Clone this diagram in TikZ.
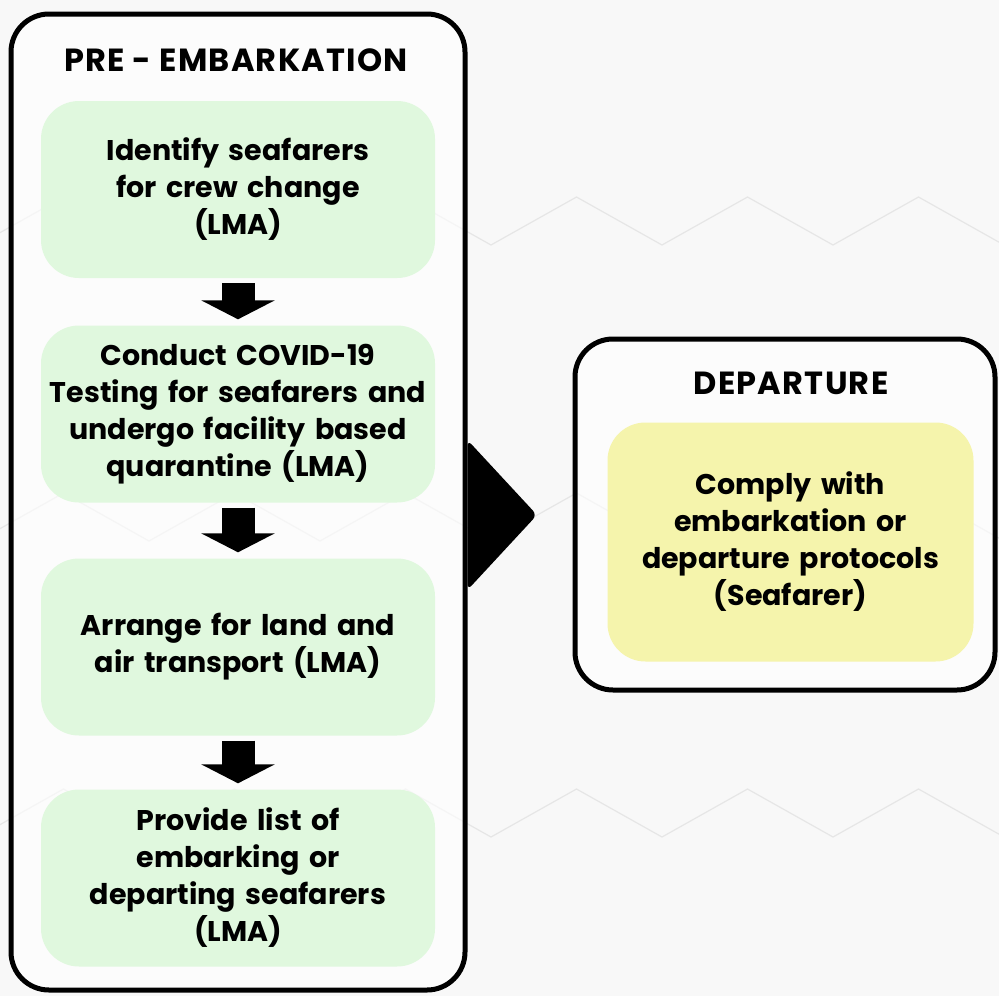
\documentclass[tikz,border=0pt]{standalone}
\usepackage{fontspec}
\setmainfont{Poppins}
\usepackage{xcolor}
\usetikzlibrary{arrows.meta, positioning, calc}

\definecolor{stepgreen}{RGB}{224,248,222}
\definecolor{stepyellow}{RGB}{245,244,172}
\definecolor{paper}{RGB}{248,248,248}
\definecolor{hexgray}{RGB}{230,230,230}

\begin{document}
\begin{tikzpicture}[x=1pt, y=-1pt,
        panel/.style={rectangle, draw, line width=5pt, rounded corners=38pt, fill=white, fill opacity=0.6, draw opacity=1},
        heading/.style={font={\fontsize{32}{36}\selectfont\bfseries\addfontfeature{LetterSpace=4}}},
        stepbox/.style={rectangle, fill=stepgreen, rounded corners=38pt, minimum width=394pt, minimum height=177pt, text width=385pt, align=center, inner sep=0pt, font={\fontsize{28.5}{37}\selectfont\bfseries}},
        arrow/.style={line width=33pt, -{Triangle[length=19pt, width=73pt]}, shorten <=5pt, shorten >=6pt},
        hexline/.style={hexgray, line width=1.2pt}
    ]
        \useasboundingbox (0,0) rectangle (999,996);
        \fill [paper] (0,0) rectangle (999,996);

        % Background zigzag rows
        \foreach \r in {0, 296, 592} {
            \draw [hexline] (-22, 245+\r) \foreach \k in {0,...,6} { -- ({63.5+171*\k}, 197+\r) -- ({149+171*\k}, 245+\r) };
        }

        % Panels
        \node (pre) [panel, minimum width=454pt, minimum height=976pt] at (238, 502) {};
        \node (dep) [panel, minimum width=420pt, minimum height=351pt] at (785, 514.5) {};
        \node (pretitle) [heading] at (236, 60) {PRE - EMBARKATION};
        \node (deptitle) [heading] at (791, 383) {DEPARTURE};

        % Pointer between the panels
        \coordinate (tip) at (537, 515);
        \fill [black, rounded corners=6pt] (pre.east |- 0,440) -- (tip) -- (pre.east |- 0,590) -- cycle;

        % Steps (Left Column)
        \node (s1) [stepbox] at (238, 189.5) {Identify seafarers\\ for crew change\\ (LMA)};
        \node (s2) [stepbox] at (238, 414) {Conduct COVID-19\\ Testing for seafarers and\\ undergo facility based\\ quarantine (LMA)};
        \node (s3) [stepbox] at (238, 647) {Arrange for land and\\ air transport (LMA)};
        \node (s4) [stepbox] at (238, 878) {Provide list of\\ embarking or\\ departing seafarers\\ (LMA)};

        % Step (Right)
        \node (s5) [stepbox, fill=stepyellow, minimum width=366pt, minimum height=239pt, text width=360pt] at (790.5, 542) {Comply with\\ embarkation or\\ departure protocols\\ (Seafarer)\\[9pt]};

        % Flows
        \draw [arrow] (s1) -- (s2);
        \draw [arrow] (s2) -- (s3);
        \draw [arrow] (s3) -- (s4);
    \end{tikzpicture}
\end{document}
